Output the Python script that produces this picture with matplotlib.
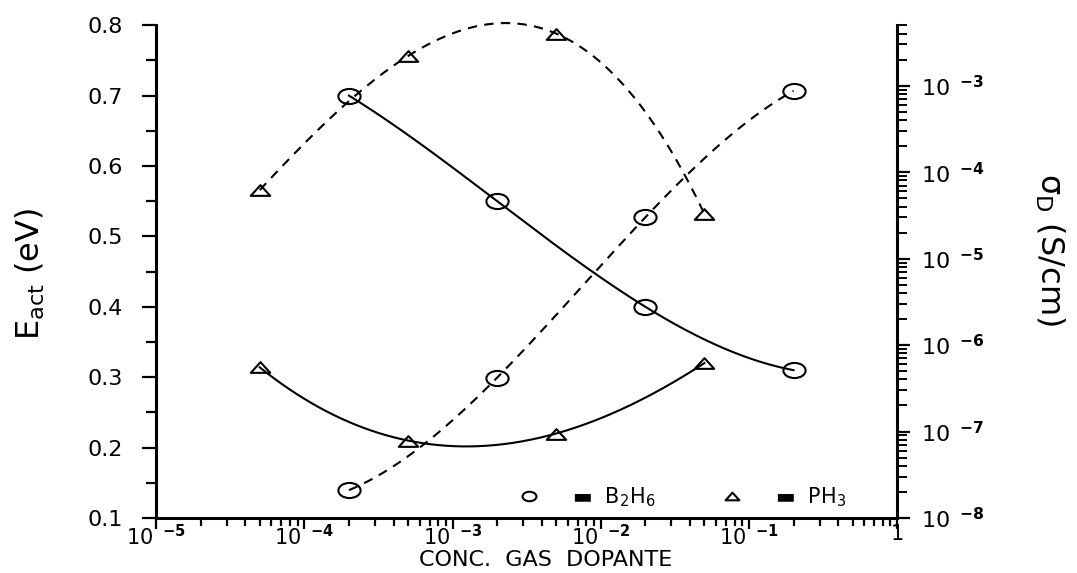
import numpy as np
import matplotlib
matplotlib.use("Agg")
import matplotlib.pyplot as plt
from matplotlib.path import Path
from matplotlib.transforms import Affine2D
from matplotlib.lines import Line2D
from matplotlib.ticker import FixedLocator, NullFormatter, LogLocator, FuncFormatter

# B2H6 (circles) and PH3 (triangles)
conc_b = [2e-4, 2e-3, 2e-2, 2e-1]
eact_b = [0.70, 0.55, 0.40, 0.31]
sigma_b = [2.1e-8, 4.2e-7, 3.0e-5, 8.7e-4]

conc_p = [5e-5, 5e-4, 5e-3, 5e-2]
eact_p = [0.314, 0.21, 0.22, 0.32]
sigma_p = [6.2e-5, 2.2e-3, 4.0e-3, 3.3e-5]

left_ticks = [0.1, 0.2, 0.3, 0.4, 0.5, 0.6, 0.7, 0.8]
x_decades = [-5, -4, -3, -2, -1, 0]
right_decades = [-8, -7, -6, -5, -4, -3]

plt.rcParams['font.family'] = ['DejaVu Sans']
plt.rcParams['mathtext.fontset'] = 'dejavusans'

# flattened open markers like the plotter symbols
ellipse = Path.unit_circle().transformed(Affine2D().scale(1.0, 0.68))
tri = Path([(-1, -0.55), (1, -0.55), (0, 0.55), (-1, -0.55)],
           [Path.MOVETO, Path.LINETO, Path.LINETO, Path.CLOSEPOLY])


def smooth(x, y, logy=False):
    lx = np.log10(x)
    yy = np.log10(y) if logy else np.asarray(y)
    c = np.polyfit(lx, yy, 3)
    g = np.linspace(lx[0], lx[-1], 300)
    v = np.polyval(c, g)
    return 10 ** g, (10 ** v if logy else v)


fig = plt.figure(figsize=(10.77, 5.73), dpi=100)
ax = fig.add_axes([0.145, 0.096, 0.688, 0.860])
ax2 = ax.twinx()

lw = 1.5
dash = (0, (4.5, 3.5))
mk = dict(mfc='none', mec='black', mew=1.5, ls='none')

# activation energy (solid)
xs, ys = smooth(conc_b, eact_b)
ax.plot(xs, ys, color='black', lw=lw)
ax.plot(conc_b, eact_b, marker=ellipse, ms=16, **mk)
xs, ys = smooth(conc_p, eact_p)
ax.plot(xs, ys, color='black', lw=lw)
ax.plot(conc_p, eact_p, marker=tri, ms=14, **mk)

# dark conductivity (dashed)
xs, ys = smooth(conc_b, sigma_b, logy=True)
ax2.plot(xs, ys, color='black', lw=lw, ls=dash)
ax2.plot(conc_b, sigma_b, marker=ellipse, ms=16, **mk)
xs, ys = smooth(conc_p, sigma_p, logy=True)
ax2.plot(xs, ys, color='black', lw=lw, ls=dash, clip_on=False)
ax2.plot(conc_p, sigma_p, marker=tri, ms=14, **mk)

ax.set_xscale('log')
ax.set_xlim(1e-5, 1)
ax.set_ylim(0.1, 0.8)
ax2.set_yscale('log')
ax2.set_ylim(1e-8, 5e-3)


def pow_label(e):
    if e == 0:
        return '1'
    return '10' + r'$^{\ \ \mathbf{' + str(e) + '}}$'


ax.xaxis.set_major_locator(FixedLocator([10.0 ** e for e in x_decades]))
ax.xaxis.set_major_formatter(FuncFormatter(lambda v, p: pow_label(int(round(np.log10(v))))))
ax.xaxis.set_minor_locator(LogLocator(base=10, subs=np.arange(2, 10)))
ax.xaxis.set_minor_formatter(NullFormatter())

ax.yaxis.set_major_locator(FixedLocator(left_ticks))
ax.yaxis.set_minor_locator(FixedLocator(np.array(left_ticks[:-1]) + 0.05))
ax.set_yticklabels(['%.1f' % t for t in left_ticks])

ax2.yaxis.set_major_locator(FixedLocator([10.0 ** e for e in right_decades]))
ax2.yaxis.set_major_formatter(FuncFormatter(lambda v, p: pow_label(int(round(np.log10(v))))))
ax2.yaxis.set_minor_locator(LogLocator(base=10, subs=np.arange(2, 10)))
ax2.yaxis.set_minor_formatter(NullFormatter())

for a in (ax, ax2):
    a.spines['top'].set_visible(False)
    for s in a.spines.values():
        s.set_linewidth(2.2)
ax.spines['right'].set_visible(False)
ax2.spines['left'].set_visible(False)
ax2.spines['bottom'].set_visible(False)

ax.tick_params(axis='y', which='major', direction='out', length=10, width=1.6,
               labelsize=16, pad=14)
ax.tick_params(axis='y', which='minor', direction='out', length=7, width=1.6)
ax.tick_params(axis='x', which='major', direction='out', length=8, width=1.6,
               labelsize=15, pad=-4)
ax.tick_params(axis='x', which='minor', direction='out', length=6, width=1.6)
ax2.tick_params(axis='y', which='major', direction='out', length=9, width=1.6,
                labelsize=16, pad=8)
ax2.tick_params(axis='y', which='minor', direction='out', length=7, width=1.4)

ax.set_xlabel('CONC.  GAS  DOPANTE', fontsize=16)
ax.xaxis.set_label_coords(0.525, -0.085)
ax.xaxis.label.set_va('center')
ax.set_ylabel(r'E$_{\mathrm{act}}$ (eV)', fontsize=23)
ax.yaxis.set_label_coords(-0.170, 0.495)
ax.yaxis.label.set_va('center')
ax2.set_ylabel('σ$_{\\mathrm{D}}$ (S/cm)', fontsize=23, rotation=270)
ax2.yaxis.set_label_coords(1.206, 0.544)
ax2.yaxis.label.set_va('center')
ax2.yaxis.label.set_ha('center')

handles = [Line2D([], [], marker=ellipse, ms=10, **mk),
           Line2D([], [], marker=tri, ms=10, **mk)]
ax.legend(handles, ['\u25ac  B$_2$H$_6$', '\u25ac  PH$_3$'], ncol=2,
          loc='center left', bbox_to_anchor=(0.489, 0.043), frameon=False,
          fontsize=15, handlelength=1.0, handletextpad=1.55, columnspacing=3.2,
          borderpad=0, borderaxespad=0)

fig.savefig('out.png', dpi=100)
